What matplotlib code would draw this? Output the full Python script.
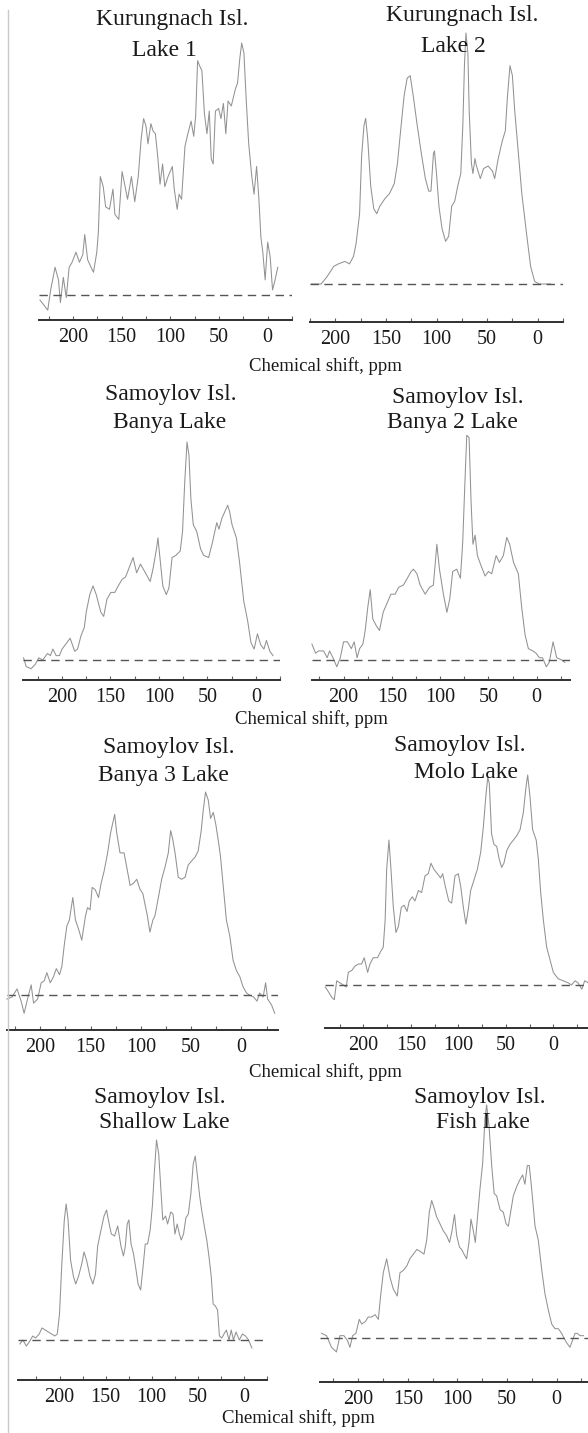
import numpy as np
import matplotlib
matplotlib.use("Agg")
import matplotlib.pyplot as plt
from matplotlib.lines import Line2D

plt.rcParams['font.family'] = ['Liberation Serif', 'DejaVu Serif']

# 13C NMR spectra, intensity relative to the tallest peak (baseline = 0)
shift_kl1 = [234, 226, 223, 218.5, 215, 213, 210, 207, 204, 201, 197, 193.5, 190, 188, 185, 181.5, 179,
             175.6, 174, 172, 169, 166.5, 162.6, 159, 157, 153, 149.6, 146, 144, 140, 136.6, 133, 130,
             127.5, 125, 123, 120, 117.7, 115.4, 113, 110.6, 108, 105.7, 102.4, 98, 96, 93, 91, 88.5,
             85, 82, 78.7, 76, 74, 72, 70, 67.6, 65, 62.4, 60, 58, 56, 53.7, 50.4, 48, 45.5, 43, 40.7,
             37.4, 33, 31, 28.6, 26.7, 24.4, 22, 19.5, 16.3, 14, 11.4, 9, 7, 5, 2.6, 0, -2.6, -5, -7, -10.4]
int_kl1 = [-0.02, -0.06, 0.02, 0.11, 0.06, -0.03, 0.07, -0.01, 0.11, 0.13, 0.17, 0.13, 0.16, 0.24, 0.14,
           0.11, 0.09, 0.17, 0.25, 0.47, 0.43, 0.35, 0.34, 0.42, 0.32, 0.30, 0.49, 0.42, 0.38, 0.47, 0.37,
           0.47, 0.62, 0.70, 0.67, 0.60, 0.68, 0.65, 0.64, 0.55, 0.44, 0.52, 0.43, 0.47, 0.51, 0.42, 0.34,
           0.40, 0.38, 0.59, 0.64, 0.69, 0.63, 0.71, 0.93, 0.91, 0.89, 0.72, 0.64, 0.73, 0.54, 0.52, 0.73,
           0.74, 0.70, 0.76, 0.64, 0.77, 0.75, 0.82, 0.84, 0.94, 1.0, 0.96, 0.77, 0.60, 0.47, 0.40, 0.51,
           0.38, 0.23, 0.17, 0.06, 0.21, 0.15, 0.02, 0.05, 0.11]

shift_kl2 = [223.6, 214, 208, 201.6, 197, 190.6, 186, 182, 179.5, 176, 174, 171.7, 170, 168, 165, 162,
             159, 156, 151, 146.5, 141.7, 138.6, 135, 132, 129, 126, 123, 119, 115, 111, 107.7, 105.5,
             103, 102, 100, 97.6, 94.5, 91, 88, 85, 82, 79, 76, 74, 72.4, 70.9, 69, 67.7, 65.5, 64, 62,
             60.5, 56.7, 53.5, 49, 44.7, 42.5, 39, 35, 32, 30, 27.4, 25, 22.7, 19.5, 15.7, 11, 7, 3,
             -1.6, -12.6]
int_kl2 = [0, 0, 0.03, 0.07, 0.08, 0.09, 0.08, 0.11, 0.16, 0.28, 0.51, 0.63, 0.66, 0.58, 0.39, 0.30,
           0.28, 0.31, 0.34, 0.36, 0.40, 0.48, 0.63, 0.75, 0.82, 0.83, 0.75, 0.63, 0.52, 0.42, 0.37, 0.37,
           0.52, 0.53, 0.44, 0.31, 0.22, 0.17, 0.19, 0.31, 0.33, 0.39, 0.44, 0.63, 0.87, 1.0, 0.92, 0.69,
           0.48, 0.44, 0.50, 0.47, 0.42, 0.46, 0.47, 0.45, 0.42, 0.50, 0.57, 0.61, 0.74, 0.87, 0.83, 0.69,
           0.54, 0.36, 0.20, 0.07, 0.01, 0, 0]

shift_banya = [239.7, 237, 232, 227.6, 224, 220, 215, 212, 209.5, 206, 202.7, 200, 196.6, 191.6, 187, 184,
               180.5, 177, 175, 171.4, 168, 164.7, 160, 157, 153.6, 149.6, 145.5, 142, 138, 134.5, 131,
               126.7, 123, 119, 114, 109, 106, 102.5, 101, 98.5, 96, 92.4, 89.7, 86.4, 82.4, 78, 75.6,
               73.3, 71, 69, 67, 64.5, 61, 57, 53.8, 48.7, 44.7, 40.3, 38, 35, 32, 29, 27, 24.5, 20,
               16.8, 12.4, 8.4, 5, 1.7, -1.7, -5, -8.4, -11, -14.5, -17.8]
int_banya = [0.01, -0.03, -0.04, -0.02, 0.01, 0, 0.03, 0.02, 0.05, 0.02, 0.02, 0.05, 0.07, 0.10, 0.04,
             0.05, 0.11, 0.15, 0.22, 0.30, 0.34, 0.30, 0.22, 0.20, 0.28, 0.31, 0.31, 0.34, 0.37, 0.38,
             0.42, 0.47, 0.40, 0.44, 0.40, 0.36, 0.42, 0.51, 0.56, 0.45, 0.34, 0.30, 0.33, 0.47, 0.48,
             0.50, 0.59, 0.82, 1.0, 0.94, 0.74, 0.62, 0.59, 0.51, 0.48, 0.47, 0.54, 0.63, 0.60, 0.65, 0.68,
             0.71, 0.68, 0.62, 0.56, 0.45, 0.27, 0.18, 0.08, 0.05, 0.12, 0.07, 0.05, 0.09, 0.04, 0.02]

shift_banya2 = [232.8, 229, 226, 220.7, 217, 214.5, 211, 207, 203.4, 200, 196, 192, 189, 186, 183.4, 180,
                177.6, 175, 172.4, 169.7, 166, 162.8, 159, 155, 151, 146.6, 143, 138, 134, 130, 127.6,
                124, 120.7, 115.5, 111, 107, 103.4, 100.7, 96.6, 93, 90, 87, 82.8, 79, 76.6, 74, 72.4,
                70, 68, 66, 63.8, 61.4, 58, 53.4, 50, 46.6, 42, 38.6, 34.5, 31, 28, 24, 19, 15.5, 12,
                8.6, 4, 0.7, -2.8, -6, -10, -13, -17, -20.7, -26, -29]
int_banya2 = [0.07, 0.03, 0.04, 0.04, 0.01, 0.04, 0.01, -0.03, 0.01, 0.08, 0.08, 0.05, 0.08, 0.01, 0.05,
              0.07, 0.13, 0.23, 0.31, 0.18, 0.15, 0.13, 0.21, 0.25, 0.29, 0.29, 0.32, 0.33, 0.36, 0.39,
              0.40, 0.38, 0.33, 0.29, 0.32, 0.33, 0.51, 0.40, 0.29, 0.21, 0.27, 0.39, 0.40, 0.36, 0.52,
              0.82, 0.99, 0.98, 0.70, 0.51, 0.55, 0.46, 0.42, 0.37, 0.39, 0.38, 0.46, 0.43, 0.46, 0.54,
              0.51, 0.43, 0.38, 0.23, 0.11, 0.05, 0.04, 0.03, 0.01, 0.01, -0.03, -0.01, 0.08, 0.01, 0,
              -0.01]

shift_banya3 = [233, 228, 223, 219, 216, 212.6, 209, 206.6, 202.6, 199, 196, 193.4, 190, 186.8, 184, 180.8,
                178.5, 176, 173.5, 171, 167.6, 165, 161.6, 158.7, 155, 153, 150.4, 148.4, 145.5, 142,
                139.5, 136.5, 133, 130, 126, 124, 120.7, 116.7, 114, 110.7, 107.4, 104, 100.8, 98, 96,
                93.5, 91, 88, 86, 82.6, 79.3, 76, 72.7, 70.4, 68.4, 66, 62.8, 59.5, 56, 53, 49.6, 46, 43,
                40, 38, 35.7, 33, 30.7, 28, 25.5, 23, 20.8, 18, 15, 11.6, 8.3, 5, 1.6, -1.6, -5, -8, -12,
                -15.5, -18, -21.5, -24, -26, -30, -33]
int_banya3 = [-0.02, -0.01, 0.03, -0.03, -0.09, -0.02, 0.05, -0.04, -0.02, 0.06, 0.07, 0.11, 0.06, 0.09,
              0.13, 0.10, 0.14, 0.25, 0.34, 0.37, 0.48, 0.37, 0.32, 0.27, 0.39, 0.43, 0.42, 0.53, 0.52,
              0.48, 0.55, 0.61, 0.70, 0.80, 0.89, 0.80, 0.70, 0.70, 0.63, 0.54, 0.55, 0.57, 0.52, 0.50,
              0.45, 0.39, 0.31, 0.37, 0.39, 0.48, 0.57, 0.63, 0.70, 0.81, 0.77, 0.70, 0.58, 0.57, 0.58,
              0.64, 0.66, 0.68, 0.71, 0.81, 0.91, 1.0, 0.96, 0.87, 0.90, 0.84, 0.76, 0.68, 0.53, 0.37,
              0.29, 0.17, 0.12, 0.09, 0.04, 0.01, 0, -0.01, -0.03, 0.01, -0.01, 0.06, -0.02, -0.05, -0.09]

shift_molo = [240, 237, 233, 230.5, 228, 224.6, 221, 218, 215.8, 212, 208.8, 205, 201.8, 199, 197, 195.4,
              193, 189.5, 185, 181.7, 179, 177, 175.4, 173, 171, 168.4, 165.6, 163, 160, 157, 154, 151.6,
              148.4, 145.6, 142, 138.6, 135, 131.6, 128.8, 125.6, 122, 118.6, 116.5, 113.7, 110, 107,
              103.5, 100, 97.5, 94.7, 92, 89.5, 87, 83.5, 80, 76.5, 73.7, 71, 69, 67.4, 65, 62.5, 59.6,
              57, 54.4, 52, 49, 45.6, 42, 38.6, 35, 31.6, 28.8, 27, 24.6, 21.8, 18, 15.8, 13.3, 10.5, 7,
              3.5, 0, -5, -10.5, -15.8, -19, -23, -26, -30, -33, -37]
int_molo = [-0.01, -0.03, -0.06, -0.07, 0.02, 0.01, 0, -0.01, 0.06, 0.07, 0.09, 0.10, 0.10, 0.13, 0.09,
            0.06, 0.10, 0.13, 0.13, 0.16, 0.18, 0.31, 0.55, 0.69, 0.56, 0.37, 0.25, 0.28, 0.37, 0.38, 0.35,
            0.40, 0.42, 0.40, 0.45, 0.44, 0.52, 0.53, 0.58, 0.55, 0.53, 0.51, 0.53, 0.47, 0.40, 0.39, 0.52,
            0.53, 0.47, 0.37, 0.29, 0.36, 0.45, 0.50, 0.55, 0.63, 0.75, 0.90, 0.99, 0.96, 0.72, 0.67, 0.66,
            0.60, 0.56, 0.58, 0.64, 0.67, 0.69, 0.71, 0.74, 0.82, 0.94, 1.0, 0.90, 0.74, 0.69, 0.60, 0.44,
            0.31, 0.18, 0.12, 0.06, 0.03, 0.02, 0.01, 0, 0.02, 0.01, -0.02, 0.02, 0.01]

shift_shallow = [243, 239.7, 236, 232.8, 229, 225.9, 222, 219, 215.5, 212, 208.6, 205, 202.4, 200, 197.6,
                 194.8, 192.8, 190.7, 188, 185, 182.4, 179.3, 175.9, 173.4, 170.7, 167, 163.8, 161,
                 158.6, 155, 151.7, 149, 147, 143.8, 140.3, 136.9, 133.4, 130.7, 128.6, 126.6, 124.8,
                 122.4, 119.7, 117, 114.8, 112, 109.3, 107, 104.5, 101.7, 99.3, 97, 94.8, 92.4, 90.3, 88,
                 85, 82.8, 79.3, 76.9, 74.8, 72.4, 70, 68, 65.5, 63, 60.3, 57.6, 55, 52.8, 50.7, 48, 45.9,
                 43, 40.3, 38, 35.5, 33.4, 31, 28.6, 26.6, 24, 21.7, 19, 16.2, 13.8, 11.4, 8.6, 5, 1.7,
                 -1.7, -5, -8.6]
int_shallow = [-0.02, 0, -0.03, -0.01, 0.02, 0.01, 0.03, 0.06, 0.05, 0.04, 0.03, 0.02, 0.03, 0.13, 0.37,
               0.60, 0.68, 0.60, 0.40, 0.32, 0.28, 0.32, 0.38, 0.44, 0.40, 0.32, 0.28, 0.33, 0.47, 0.55,
               0.62, 0.65, 0.60, 0.53, 0.52, 0.57, 0.47, 0.42, 0.47, 0.58, 0.60, 0.48, 0.43, 0.35, 0.28,
               0.25, 0.37, 0.48, 0.48, 0.55, 0.67, 0.85, 1.0, 0.93, 0.77, 0.60, 0.62, 0.58, 0.64, 0.63,
               0.53, 0.58, 0.53, 0.50, 0.53, 0.61, 0.63, 0.73, 0.88, 0.92, 0.83, 0.72, 0.65, 0.57, 0.50,
               0.42, 0.32, 0.18, 0.17, 0.15, 0.02, 0.01, 0.03, 0.05, 0, 0.05, 0, 0.04, 0, 0.03, 0.02, 0,
               -0.04]

shift_fish = [237, 232, 227, 222, 218.5, 214.5, 211, 208.4, 205.7, 202.4, 199, 196.6, 193, 190, 186.6, 183,
              179.8, 177.5, 174.8, 171.4, 168, 164.7, 160.7, 158, 154.6, 151, 148, 144.5, 141, 137,
              133.8, 131, 128.4, 126, 123.7, 121, 117.6, 114.3, 111, 108, 105.5, 103, 100.8, 98, 95.8,
              93.4, 90.8, 88.4, 86.4, 84, 82, 80, 77.3, 74.6, 72.3, 70.6, 68.2, 65.5, 63, 60.5, 57, 53.8,
              51, 48.7, 46.4, 43.7, 40.3, 37, 34.3, 32, 29.6, 27.6, 25.2, 21.8, 18.5, 15, 11.8, 8.4, 5,
              1.7, -1.7, -5, -7.4, -10, -13.4, -16, -18.5, -20.8, -23.5, -27]
int_fish = [0.02, 0.01, -0.04, -0.06, 0.01, 0.01, -0.01, -0.04, 0.01, 0.02, 0.08, 0.06, 0.07, 0.09, 0.09,
            0.10, 0.08, 0.18, 0.28, 0.34, 0.26, 0.21, 0.18, 0.28, 0.29, 0.31, 0.34, 0.36, 0.38, 0.37, 0.36,
            0.42, 0.54, 0.59, 0.56, 0.52, 0.49, 0.46, 0.44, 0.41, 0.46, 0.53, 0.44, 0.39, 0.38, 0.36, 0.34,
            0.41, 0.51, 0.46, 0.41, 0.51, 0.64, 0.75, 0.94, 1.0, 0.91, 0.74, 0.62, 0.61, 0.55, 0.54, 0.49,
            0.48, 0.54, 0.61, 0.65, 0.68, 0.70, 0.66, 0.74, 0.74, 0.64, 0.48, 0.42, 0.29, 0.19, 0.12, 0.06,
            0.04, 0.04, 0.02, 0, -0.02, -0.04, -0.01, 0.02, 0.02, 0.01, 0.01]

titles = [("Kurungnach Isl.", "Lake 1"), ("Kurungnach Isl.", "Lake 2"),
          ("Samoylov Isl.", "Banya Lake"), ("Samoylov Isl.", "Banya 2 Lake"),
          ("Samoylov Isl.", "Banya 3 Lake"), ("Samoylov Isl.", "Molo Lake"),
          ("Samoylov Isl.", "Shallow Lake"), ("Samoylov Isl.", "Fish Lake")]
shifts = [shift_kl1, shift_kl2, shift_banya, shift_banya2, shift_banya3, shift_molo, shift_shallow, shift_fish]
intens = [int_kl1, int_kl2, int_banya, int_banya2, int_banya3, int_molo, int_shallow, int_fish]
xtick_major = [200, 150, 100, 50, 0]
xlabel = "Chemical shift, ppm"

# panel layout in pixels: left, right, x-axis line, baseline, top peak, ppm at left, ppm at right
layout = [
    (39, 292, 320, 295, 43, 235, -12),
    (310, 563, 322, 284, 33, 223.6, -15.4),
    (23, 280, 680, 660, 442, 240.3, -18.5),
    (312, 570, 680, 660, 433, 232.7, -34.5),
    (7, 278, 1030, 995, 792, 233, -36.3),
    (325, 588, 1028, 985, 775, 240.3, -36.5),
    (18, 267, 1380, 1340, 1140, 245, -12),
    (320, 588, 1382, 1338, 1105, 238.6, -31.6),
]
# title line centres (x1, y1, x2, y2) in pixels
title_pos = [
    (172, 20, 164, 50), (462, 15, 453, 47),
    (171, 395, 170, 423), (458, 398, 452, 423),
    (169, 748, 163, 775), (460, 745, 466, 772),
    (160, 1097, 164, 1123), (480, 1098, 483, 1123),
]
xlabel_pos = [(325, 366), (311, 719), (325, 1072), (298, 1418)]

W, H = 588, 1433
fig = plt.figure(figsize=(W / 100, H / 100), dpi=100)

# thin gray frame line at the left edge
fig.add_artist(Line2D([8 / W, 8 / W], [0, 1 - 10 / H], color='#c8c8c8', lw=1.0))

for i in range(8):
    left, right, axis_y, base_y, peak_y, x0, x1 = layout[i]
    top = peak_y - 8
    ax = fig.add_axes([left / W, 1 - axis_y / H, (right - left) / W, (axis_y - top) / H])
    unit = base_y - peak_y
    ax.set_ylim(-(axis_y - base_y) / unit, (base_y - top) / unit)
    ax.set_xlim(x0, x1)
    ax.patch.set_alpha(0)

    ax.plot(shifts[i], intens[i], color='#929292', lw=0.75, clip_on=False)
    ax.axhline(0, color='#555555', lw=1.0, ls=(0, (6, 4)))

    for s in ['top', 'left', 'right']:
        ax.spines[s].set_visible(False)
    ax.spines['bottom'].set_linewidth(1.4)
    ax.spines['bottom'].set_color('#303030')
    ax.set_yticks([])
    ax.set_xticks(xtick_major)
    ax.set_xticks(np.arange(-25, 250, 25), minor=True)
    ax.tick_params(axis='x', which='both', direction='in', length=3, width=0.8, color='#606060')
    ax.tick_params(axis='x', which='major', labelsize=14.5, pad=6, labelcolor='#1a1a1a')

    t = title_pos[i]
    fig.text(t[0] / W, 1 - t[1] / H, titles[i][0], ha='center', va='center', fontsize=17, color='#1a1a1a')
    fig.text(t[2] / W, 1 - t[3] / H, titles[i][1], ha='center', va='center', fontsize=17, color='#1a1a1a')

for x, y in xlabel_pos:
    fig.text(x / W, 1 - y / H, xlabel, ha='center', va='center', fontsize=13.5, color='#1a1a1a')

fig.savefig("out.png", dpi=100, facecolor='white')
